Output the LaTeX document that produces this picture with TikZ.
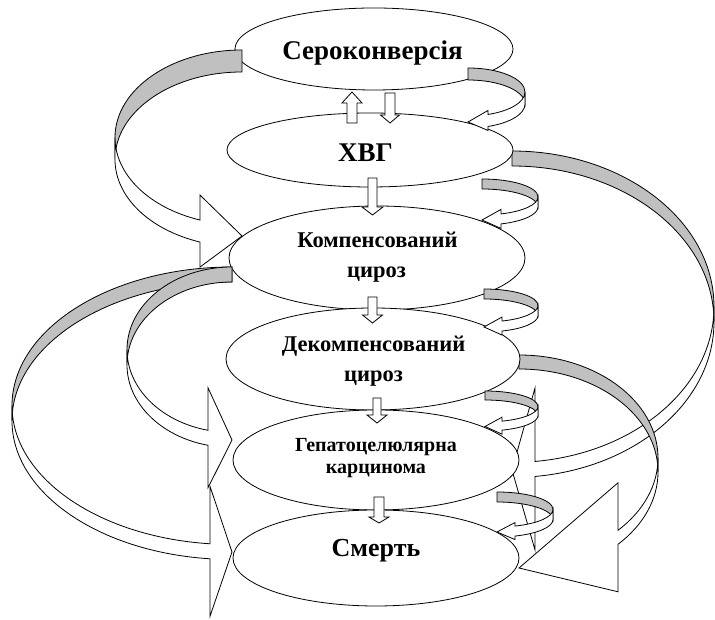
\documentclass[tikz,border=0pt]{standalone}
\usepackage{fontspec}
\setmainfont{Liberation Serif}
\usetikzlibrary{shapes.geometric}
\definecolor{bandgray}{RGB}{192,192,192}
\tikzset{
  outline/.style={draw=black,line width=0.8pt,line join=miter},
  bandback/.style={outline,fill=bandgray},
  bandfront/.style={outline,fill=white},
  arrblk/.style={outline,fill=white},
  ell/.style={ellipse,outline,fill=white,inner sep=0pt},
  lbl/.style={anchor=base,inner sep=0pt},
}
% curved ribbon arrow: #1 = 1 (body right, points left) or -1 (body left, points right)
% #2 tip x, #3 top y (from top), #4 w, #5 vertical radius, #6 thickness, #7 head length, #8 head width
\newcommand\bandarrow[8]{%
  \pgfmathsetmacro\baW{#4}%
  \pgfmathsetmacro\baH{#5}%
  \pgfmathsetmacro\baT{#6}%
  \pgfmathsetmacro\baAH{#7}%
  \pgfmathsetmacro\baAW{#8}%
  \pgfmathsetmacro\baB{acos(\baAH/\baW)}%
  \pgfmathsetmacro\baYA{-\baH*(1+sin(\baB))}%
  \pgfmathsetmacro\baYB{\baYA-\baT}%
  \pgfmathsetmacro\baYU{\baYA-\baT/2+\baAW/2}%
  \pgfmathsetmacro\baYL{\baYA-\baT/2-\baAW/2}%
  \pgfmathsetmacro\baYT{-2*\baH-\baT/2}%
  \pgfmathsetmacro\baYC{-\baH-\baT}%
  \begin{scope}[shift={(#2,620-#3)},xscale=#1]
    \filldraw[bandback] (0,0) arc[start angle=90,end angle=0,x radius=\baW,y radius=\baH]
      -- (\baW,\baYC) arc[start angle=0,end angle=90,x radius=\baW,y radius=\baH] -- cycle;
    \filldraw[bandfront] (\baW,-\baH) arc[start angle=0,end angle=-\baB,x radius=\baW,y radius=\baH]
      -- (\baAH,\baYU) -- (0,\baYT) -- (\baAH,\baYL) -- (\baAH,\baYB)
      arc[start angle=-\baB,end angle=0,x radius=\baW,y radius=\baH] -- cycle;
  \end{scope}}
% straight block arrow: x, start y, head base y, tip y, shaft half width, head half width
\newcommand\blockarr[6]{%
  \filldraw[arrblk] (#1-#5,620-#2) -- (#1-#5,620-#3) -- (#1-#6,620-#3) -- (#1,620-#4)
    -- (#1+#6,620-#3) -- (#1+#5,620-#3) -- (#1+#5,620-#2) -- cycle;}
\begin{document}
\begin{tikzpicture}[x=1pt,y=1pt]
\useasboundingbox (0,0) rectangle (715,620);
\fill[white] (0,0) rectangle (715,620);

% long arrows on the right (behind the ellipses)
\bandarrow{1}{512}{151}{202}{155.75}{15}{23}{162}
\bandarrow{1}{519}{355}{139}{103}{14}{99}{109}

% stages
\node[ell,minimum width=278pt,minimum height=82pt] (sero) at (374,620-49) {};
\node[ell,minimum width=286pt,minimum height=74pt] (hvg) at (370,620-150) {};
\node[ell,minimum width=296pt,minimum height=104pt] (komp) at (377,620-258) {};
\node[ell,minimum width=294pt,minimum height=102pt] (dekomp) at (373,620-359) {};
\node[ell,minimum width=286pt,minimum height=100pt] (hcc) at (376,620-460) {};
\node[ell,minimum width=286pt,minimum height=96pt] (death) at (376,620-558) {};

\node[lbl,font=\fontsize{27}{27}\selectfont\bfseries] (sero-t) at (372.5,620-60) {Сероконверсія};
\node[lbl,font=\fontsize{27}{27}\selectfont\bfseries] (hvg-t) at (365.5,620-162) {ХВГ};
\node[lbl,font=\fontsize{22.5}{22.5}\selectfont\bfseries] (komp-t1) at (377.5,620-248) {Компенсований};
\node[lbl,font=\fontsize{22.5}{22.5}\selectfont\bfseries] (komp-t2) at (376.5,620-278) {цироз};
\node[lbl,font=\fontsize{22.5}{22.5}\selectfont\bfseries] (dekomp-t1) at (373.5,620-352) {Декомпенсований};
\node[lbl,font=\fontsize{22.5}{22.5}\selectfont\bfseries] (dekomp-t2) at (373.5,620-382) {цироз};
\node[lbl,font=\fontsize{20}{20}\selectfont\bfseries] (hcc-t1) at (376,620-452) {Гепатоцелюлярна};
\node[lbl,font=\fontsize{20}{20}\selectfont\bfseries] (hcc-t2) at (376,620-474) {карцинома};
\node[lbl,font=\fontsize{26}{26}\selectfont\bfseries] (death-t) at (376,620-557) {Смерть};

% small loops on the right
\bandarrow{1}{468}{68}{57}{24}{12}{20}{20}
\bandarrow{1}{482}{179}{56}{18}{10}{19}{19}
\bandarrow{1}{484}{289}{54}{16.5}{10}{18}{18}
\bandarrow{1}{485}{391}{53}{15.5}{9}{17}{17}
\bandarrow{1}{497}{492}{56}{17.5}{10}{18}{17}

% long arrows on the left
\bandarrow{-1}{232}{267}{220}{138.75}{15}{22}{130}
\bandarrow{-1}{232}{267}{105}{82.75}{15}{24}{100}
\bandarrow{-1}{242}{50}{127}{87.5}{22}{42}{72}

% straight arrows between stages
\blockarr{352}{123}{103}{92}{5}{10}
\blockarr{390}{93}{115}{123}{5}{9.5}
\blockarr{372.5}{178}{207}{215}{4.5}{10.5}
\blockarr{372.5}{297}{315}{323}{4.5}{10}
\blockarr{377}{398}{415}{423}{4}{10}
\blockarr{379}{497}{517}{523}{5}{10}
\end{tikzpicture}
\end{document}
